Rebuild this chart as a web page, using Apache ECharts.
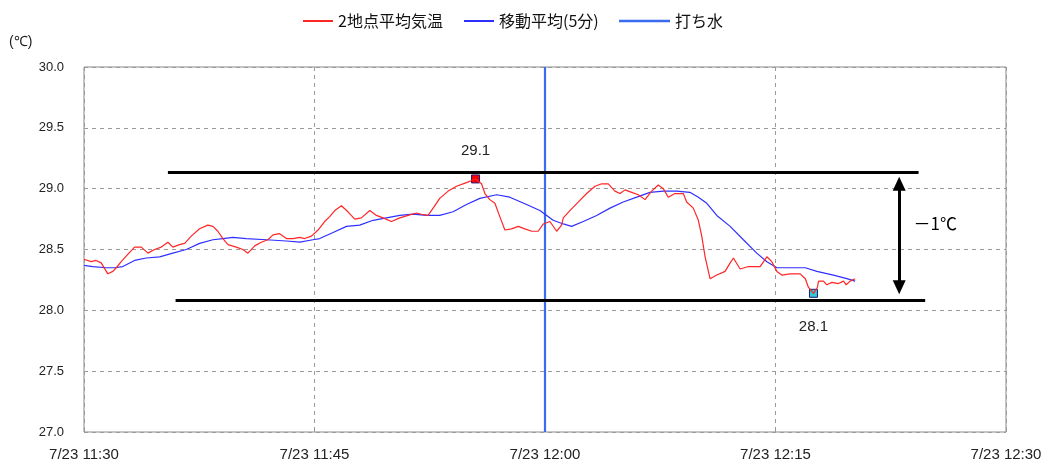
<!DOCTYPE html>
<html><head><meta charset="utf-8">
<script src="https://cdn.jsdelivr.net/npm/echarts@6/dist/echarts.min.js"></script>
<style>html,body{margin:0;padding:0;background:#fff}#c{width:1047px;height:463px}</style>
</head><body><div id="c"></div>
<script>
// minutes after 7/23 11:30
const redTimes = [0.0,0.47,0.79,1.12,1.55,1.88,2.10,2.42,2.85,3.29,3.73,4.16,4.59,5.03,5.46,5.78,6.22,6.55,6.98,7.52,8.06,8.39,8.71,9.04,9.37,9.91,10.34,10.67,11.11,11.54,11.97,12.30,12.73,13.17,13.60,14.04,14.36,14.80,15.23,15.66,15.99,16.32,16.75,17.18,17.62,18.05,18.60,19.03,19.46,20.01,20.55,21.09,21.64,21.96,22.39,22.72,23.15,23.70,24.24,24.89,25.48,25.87,26.09,26.41,26.74,27.06,27.39,27.82,28.26,28.69,29.13,29.56,29.89,30.32,30.76,31.08,31.19,31.62,32.16,32.71,33.25,33.69,34.12,34.55,34.88,35.21,35.64,36.07,36.51,36.94,37.37,37.70,38.02,38.46,39.00,39.22,39.65,39.98,40.20,40.42,40.74,41.18,41.72,42.05,42.26,42.70,43.24,44.00,44.44,44.76,45.09,45.41,45.95,46.61,46.94,47.14,47.47,47.73,47.80,48.12,48.34,48.67,49.10,49.43,49.60,49.86,50.18];
const redValues = [28.42,28.40,28.41,28.39,28.30,28.32,28.35,28.40,28.46,28.52,28.52,28.47,28.50,28.52,28.56,28.52,28.54,28.55,28.61,28.67,28.70,28.69,28.65,28.59,28.54,28.52,28.50,28.47,28.53,28.56,28.58,28.62,28.63,28.59,28.59,28.60,28.59,28.61,28.66,28.73,28.77,28.82,28.86,28.81,28.75,28.76,28.82,28.78,28.76,28.73,28.76,28.78,28.80,28.79,28.78,28.84,28.92,28.98,29.02,29.05,29.08,29.04,28.96,28.91,28.88,28.77,28.66,28.67,28.69,28.67,28.65,28.65,28.71,28.73,28.65,28.70,28.76,28.82,28.89,28.96,29.02,29.04,29.04,28.98,28.96,28.99,28.97,28.95,28.91,28.98,29.03,29.00,28.93,28.96,28.96,28.89,28.84,28.74,28.61,28.44,28.26,28.29,28.32,28.39,28.43,28.34,28.36,28.36,28.44,28.40,28.32,28.29,28.30,28.30,28.26,28.19,28.14,28.19,28.24,28.24,28.21,28.23,28.22,28.24,28.21,28.24,28.26];
const avgTimes = [0,0.57,1.45,1.99,2.53,3.29,4.05,4.92,5.78,6.66,7.52,8.39,9.04,9.69,10.56,11.87,13.17,14.04,14.90,15.34,16.21,17.08,17.94,18.81,19.68,20.55,21.42,22.29,23.15,24.02,24.89,25.76,26.85,27.71,28.80,29.67,30.53,31.19,31.73,32.49,33.36,34.23,35.09,35.97,36.83,37.70,38.57,39.43,39.98,40.53,41.18,42.05,42.91,43.78,44.44,45.09,46.17,46.94,47.69,48.77,49.64,50.18];
const avgValues = [28.37,28.36,28.35,28.35,28.36,28.41,28.43,28.44,28.47,28.50,28.55,28.58,28.59,28.60,28.59,28.58,28.57,28.56,28.58,28.59,28.64,28.69,28.70,28.74,28.76,28.78,28.79,28.78,28.78,28.81,28.87,28.92,28.95,28.93,28.87,28.82,28.74,28.71,28.69,28.73,28.78,28.84,28.89,28.93,28.97,28.98,28.98,28.97,28.93,28.88,28.78,28.69,28.58,28.47,28.40,28.35,28.35,28.35,28.32,28.29,28.26,28.24];
const waterTime = 30; // 12:00
const xTicks = ['7/23 11:30','7/23 11:45','7/23 12:00','7/23 12:15','7/23 12:30'];
const seriesNames = ['2地点平均気温','移動平均(5分)','打ち水'];
// annotation lines: [startMin, endMin, value]
const upperBand = [5.46, 54.31, 29.137];
const lowerBand = [5.96, 54.74, 28.085];
const arrowAt = [53.05, 29.04, 28.19];
const diffLabel = ['－1℃', 55.4, 28.71];

const pair = (t, v) => t.map((x, i) => [x, v[i]]);
const font = 'Liberation Sans, Arial, sans-serif';
const cjk = '"Noto Sans CJK JP", sans-serif';
const colors = ['#ff2626', '#2f2fff', '#3a6cf0'];

const legendCommon = {top: 8, itemHeight: 2, icon: 'rect', textStyle: {fontFamily: cjk, fontSize: 16, color: '#111'}};
const chart = echarts.init(document.getElementById('c'));
chart.setOption({
  animation: false,
  backgroundColor: '#fff',
  grid: {left: 84, right: 41, top: 67, bottom: 31, show: true, borderColor: '#8a8a8a', borderWidth: 1},
  legend: [
    Object.assign({}, legendCommon, {left: 298, itemWidth: 30, data: [seriesNames[0]]}),
    Object.assign({}, legendCommon, {left: 459, itemWidth: 30, data: [seriesNames[1]]}),
    Object.assign({}, legendCommon, {left: 614, itemWidth: 51, itemHeight: 2.5, data: [seriesNames[2]]})
  ],
  graphic: [{type: 'text', left: 9, top: 35, style: {text: '(℃)', font: '14px ' + font, fill: '#222'}}],
  xAxis: {
    type: 'value', min: 0, max: 60, interval: 15,
    axisLine: {show: false},
    axisTick: {show: true, inside: true, length: 5, lineStyle: {color: '#999'}},
    axisLabel: {fontFamily: font, fontSize: 15, color: '#222', margin: 15,
      formatter: v => xTicks[Math.round(v / 15)] || ''},
    splitLine: {show: true, lineStyle: {type: [4, 4], color: '#9a9a9a'}}
  },
  yAxis: {
    type: 'value', min: 27, max: 30, interval: 0.5,
    axisLine: {show: false}, axisTick: {show: false},
    axisLabel: {fontFamily: font, fontSize: 13, color: '#222', margin: 20, formatter: v => v.toFixed(1)},
    splitLine: {show: true, lineStyle: {type: [4, 4], color: '#9a9a9a'}}
  },
  series: [
    {
      name: seriesNames[0], type: 'line', data: pair(redTimes, redValues),
      showSymbol: false, color: colors[0], lineStyle: {width: 1.2}, z: 5,
      markPoint: {
        symbol: 'rect', symbolSize: 8,
        data: [
          {type: 'max', itemStyle: {color: '#ff0000', borderColor: '#1a1a80', borderWidth: 1},
           label: {position: 'top', distance: 16}},
          {type: 'min', itemStyle: {color: '#33c8d0', borderColor: '#1a1a80', borderWidth: 1},
           label: {position: 'bottom', distance: 22}}
        ],
        label: {show: true, fontFamily: font, fontSize: 15, color: '#222', formatter: p => p.value.toFixed(1)}
      }
    },
    {
      name: seriesNames[1], type: 'line', data: pair(avgTimes, avgValues),
      showSymbol: false, color: colors[1], lineStyle: {width: 1.2}, z: 4
    },
    {
      name: seriesNames[2], type: 'line', data: [[waterTime, 27], [waterTime, 30]],
      showSymbol: false, color: colors[2], lineStyle: {width: 2.2}, z: 3
    },
    {
      type: 'line', data: [], silent: true, z: 6,
      markLine: {
        silent: true, animation: false, symbol: 'none',
        lineStyle: {color: '#000', width: 3, type: 'solid'},
        label: {show: false},
        data: [
          [{coord: [upperBand[0], upperBand[2]]}, {coord: [upperBand[1], upperBand[2]]}],
          [{coord: [lowerBand[0], lowerBand[2]]}, {coord: [lowerBand[1], lowerBand[2]]}],
          [{coord: [arrowAt[0], arrowAt[1]], symbol: 'triangle', symbolSize: [13, 14]},
           {coord: [arrowAt[0], arrowAt[2]], symbol: 'triangle', symbolSize: [13, 14]}]
        ]
      },
      markPoint: {
        symbol: 'circle', symbolSize: 1, itemStyle: {color: 'rgba(0,0,0,0)'},
        label: {show: true, position: 'inside', fontFamily: cjk, fontSize: 17, color: '#000', formatter: diffLabel[0]},
        data: [{coord: [diffLabel[1], diffLabel[2]]}]
      }
    }
  ]
});
</script></body></html>
